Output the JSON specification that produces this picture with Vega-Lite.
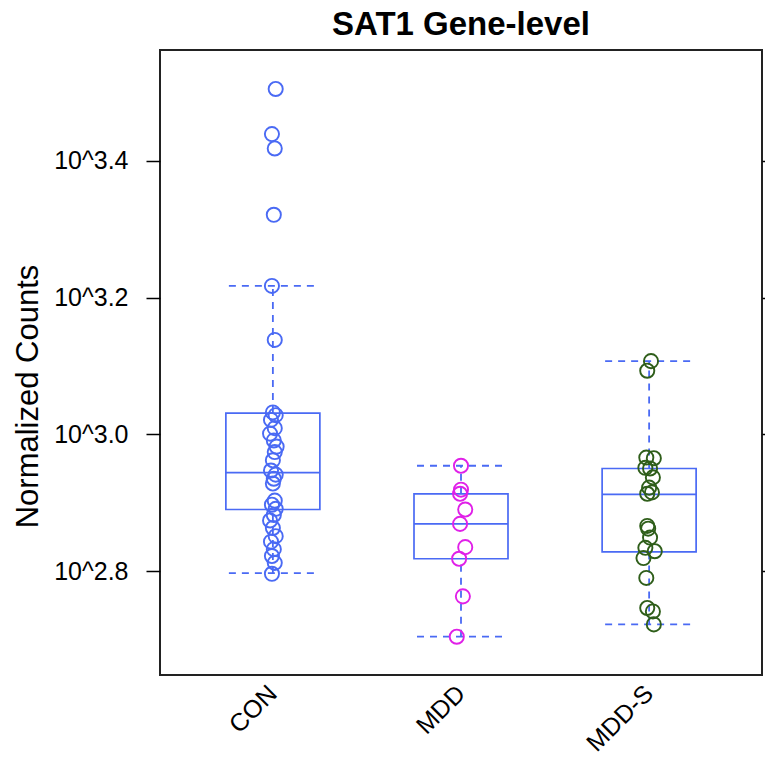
{
  "$schema": "https://vega.github.io/schema/vega-lite/v6.json",
  "width": 602,
  "height": 625,
  "autosize": "none",
  "padding": {"left": 160, "top": 50, "right": 3, "bottom": 89},
  "background": "white",
  "title": {"text": "SAT1 Gene-level", "fontSize": 33, "fontWeight": "bold", "font": "Liberation Sans", "color": "black", "anchor": "middle", "offset": 8},
  "config": {
    "view": {"stroke": "#222222", "strokeWidth": 2},
    "axis": {"labelFont": "Liberation Sans", "titleFont": "Liberation Sans", "labelColor": "black", "titleColor": "black", "grid": false, "domain": false}
  },
  "datasets": {
    "pts": [
      {"group": "CON", "log10Count": 3.505, "jit": 0.03},
      {"group": "CON", "log10Count": 3.439, "jit": -0.01},
      {"group": "CON", "log10Count": 3.418, "jit": 0.02},
      {"group": "CON", "log10Count": 3.321, "jit": 0.01},
      {"group": "CON", "log10Count": 3.217, "jit": -0.01},
      {"group": "CON", "log10Count": 3.138, "jit": 0.02},
      {"group": "CON", "log10Count": 3.032, "jit": 0.0},
      {"group": "CON", "log10Count": 3.028, "jit": 0.03},
      {"group": "CON", "log10Count": 3.021, "jit": -0.02},
      {"group": "CON", "log10Count": 3.009, "jit": 0.02},
      {"group": "CON", "log10Count": 3.001, "jit": -0.03},
      {"group": "CON", "log10Count": 2.991, "jit": 0.01},
      {"group": "CON", "log10Count": 2.982, "jit": 0.04},
      {"group": "CON", "log10Count": 2.974, "jit": 0.02},
      {"group": "CON", "log10Count": 2.962, "jit": 0.0},
      {"group": "CON", "log10Count": 2.947, "jit": -0.02},
      {"group": "CON", "log10Count": 2.941, "jit": 0.03},
      {"group": "CON", "log10Count": 2.935, "jit": 0.01},
      {"group": "CON", "log10Count": 2.928, "jit": 0.0},
      {"group": "CON", "log10Count": 2.903, "jit": 0.02},
      {"group": "CON", "log10Count": 2.897, "jit": -0.01},
      {"group": "CON", "log10Count": 2.891, "jit": 0.03},
      {"group": "CON", "log10Count": 2.882, "jit": 0.01},
      {"group": "CON", "log10Count": 2.874, "jit": -0.03},
      {"group": "CON", "log10Count": 2.863, "jit": 0.0},
      {"group": "CON", "log10Count": 2.851, "jit": 0.03},
      {"group": "CON", "log10Count": 2.843, "jit": -0.02},
      {"group": "CON", "log10Count": 2.832, "jit": 0.01},
      {"group": "CON", "log10Count": 2.822, "jit": -0.01},
      {"group": "CON", "log10Count": 2.812, "jit": 0.02},
      {"group": "CON", "log10Count": 2.796, "jit": -0.01},
      {"group": "MDD", "log10Count": 2.954, "jit": 0.0},
      {"group": "MDD", "log10Count": 2.919, "jit": 0.0},
      {"group": "MDD", "log10Count": 2.913, "jit": -0.01},
      {"group": "MDD", "log10Count": 2.890, "jit": 0.045},
      {"group": "MDD", "log10Count": 2.869, "jit": -0.01},
      {"group": "MDD", "log10Count": 2.835, "jit": 0.045},
      {"group": "MDD", "log10Count": 2.818, "jit": -0.02},
      {"group": "MDD", "log10Count": 2.763, "jit": 0.02},
      {"group": "MDD", "log10Count": 2.704, "jit": -0.045},
      {"group": "MDD-S", "log10Count": 3.107, "jit": 0.02},
      {"group": "MDD-S", "log10Count": 3.093, "jit": -0.02},
      {"group": "MDD-S", "log10Count": 2.966, "jit": -0.03},
      {"group": "MDD-S", "log10Count": 2.965, "jit": 0.05},
      {"group": "MDD-S", "log10Count": 2.951, "jit": -0.04},
      {"group": "MDD-S", "log10Count": 2.950, "jit": 0.01},
      {"group": "MDD-S", "log10Count": 2.937, "jit": 0.04},
      {"group": "MDD-S", "log10Count": 2.922, "jit": 0.0},
      {"group": "MDD-S", "log10Count": 2.915, "jit": 0.03},
      {"group": "MDD-S", "log10Count": 2.913, "jit": -0.02},
      {"group": "MDD-S", "log10Count": 2.866, "jit": -0.02},
      {"group": "MDD-S", "log10Count": 2.862, "jit": -0.01},
      {"group": "MDD-S", "log10Count": 2.849, "jit": 0.01},
      {"group": "MDD-S", "log10Count": 2.834, "jit": -0.04},
      {"group": "MDD-S", "log10Count": 2.829, "jit": 0.06},
      {"group": "MDD-S", "log10Count": 2.819, "jit": -0.06},
      {"group": "MDD-S", "log10Count": 2.790, "jit": -0.03},
      {"group": "MDD-S", "log10Count": 2.746, "jit": -0.02},
      {"group": "MDD-S", "log10Count": 2.741, "jit": 0.04},
      {"group": "MDD-S", "log10Count": 2.722, "jit": 0.05}
    ],
    "box": [
      {"group": "CON", "lower": 2.797, "q1": 2.890, "median": 2.944, "q3": 3.031, "upper": 3.217},
      {"group": "MDD", "lower": 2.704, "q1": 2.818, "median": 2.869, "q3": 2.913, "upper": 2.954},
      {"group": "MDD-S", "lower": 2.722, "q1": 2.828, "median": 2.912, "q3": 2.950, "upper": 3.107}
    ]
  },
  "layer": [
    {
      "layer": [
        {
          "data": {"name": "box"},
          "mark": {"type": "rule", "stroke": "#4a6af4", "strokeWidth": 1.8, "strokeDash": [7, 6]},
          "encoding": {
            "x": {"field": "group", "type": "nominal", "title": null, "scale": {"domain": ["CON", "MDD", "MDD-S"], "paddingInner": 0, "paddingOuter": 0.1}, "axis": {"ticks": false, "labelAngle": -45, "labelAlign": "right", "labelBaseline": "middle", "labelFontSize": 25, "labelPadding": 14, "title": null}},
            "y": {"field": "q3", "type": "quantitative", "title": "Normalized Counts", "scale": {"domain": [2.648, 3.562], "nice": false, "zero": false}, "axis": {"orient": "left", "values": [2.8, 3.0, 3.2, 3.4], "labelExpr": "'10^' + format(datum.value, '.1f')", "tickColor": "black", "tickWidth": 1.5, "tickSize": 14, "labelFontSize": 25, "labelPadding": 18, "labelBaseline": "middle", "titleFontSize": 31, "titleFontWeight": "normal", "titleX": -132, "titleY": 346, "titleAngle": -90, "titleAlign": "center", "titleBaseline": "middle"}},
            "y2": {"field": "upper"}
          }
        },
        {
          "data": {"name": "box"},
          "mark": {"type": "rule", "stroke": "#4a6af4", "strokeWidth": 1.8, "strokeDash": [7, 6]},
          "encoding": {
            "x": {"field": "group", "type": "nominal"},
            "y": {"field": "lower", "type": "quantitative", "title": "Normalized Counts"},
            "y2": {"field": "q1"}
          }
        },
        {
          "data": {"name": "box"},
          "mark": {"type": "bar", "width": 88, "fillOpacity": 0, "stroke": "#4a6af4", "strokeWidth": 1.8, "strokeDash": [7, 6]},
          "encoding": {
            "x": {"field": "group", "type": "nominal"},
            "y": {"field": "upper", "type": "quantitative", "title": "Normalized Counts"},
            "y2": {"field": "upper"}
          }
        },
        {
          "data": {"name": "box"},
          "mark": {"type": "bar", "width": 88, "fillOpacity": 0, "stroke": "#4a6af4", "strokeWidth": 1.8, "strokeDash": [7, 6]},
          "encoding": {
            "x": {"field": "group", "type": "nominal"},
            "y": {"field": "lower", "type": "quantitative", "title": "Normalized Counts"},
            "y2": {"field": "lower"}
          }
        },
        {
          "data": {"name": "box"},
          "mark": {"type": "bar", "width": 94, "fill": "white", "fillOpacity": 0, "stroke": "#4a6af4", "strokeWidth": 1.7},
          "encoding": {
            "x": {"field": "group", "type": "nominal"},
            "y": {"field": "q1", "type": "quantitative", "title": "Normalized Counts"},
            "y2": {"field": "q3"}
          }
        },
        {
          "data": {"name": "box"},
          "mark": {"type": "bar", "width": 94, "fillOpacity": 0, "stroke": "#4a6af4", "strokeWidth": 1.7},
          "encoding": {
            "x": {"field": "group", "type": "nominal"},
            "y": {"field": "median", "type": "quantitative", "title": "Normalized Counts"},
            "y2": {"field": "median"}
          }
        },
        {
          "data": {"name": "pts"},
          "mark": {"type": "point", "shape": "circle", "filled": false, "size": 200, "strokeWidth": 1.9, "opacity": 1},
          "encoding": {
            "x": {"field": "group", "type": "nominal"},
            "xOffset": {"field": "jit", "type": "quantitative", "scale": {"domain": [-1, 1]}},
            "y": {"field": "log10Count", "type": "quantitative", "title": "Normalized Counts"},
            "color": {"field": "group", "type": "nominal", "scale": {"domain": ["CON", "MDD", "MDD-S"], "range": ["#4a6af4", "#e020e8", "#2f5e1a"]}, "legend": null}
          }
        }
      ]
    },
    {
      "data": {"name": "box"},
      "mark": {"type": "tick", "opacity": 0},
      "encoding": {
        "x": {"field": "group", "type": "nominal"},
        "y": {"field": "median", "type": "quantitative", "title": null, "scale": {"domain": [2.648, 3.562], "nice": false, "zero": false}, "axis": {"orient": "right", "values": [2.8, 3.0, 3.2, 3.4], "labels": false, "tickColor": "black", "tickWidth": 1.5, "tickSize": 10, "title": null}}
      }
    }
  ],
  "resolve": {"scale": {"y": "independent"}}
}
